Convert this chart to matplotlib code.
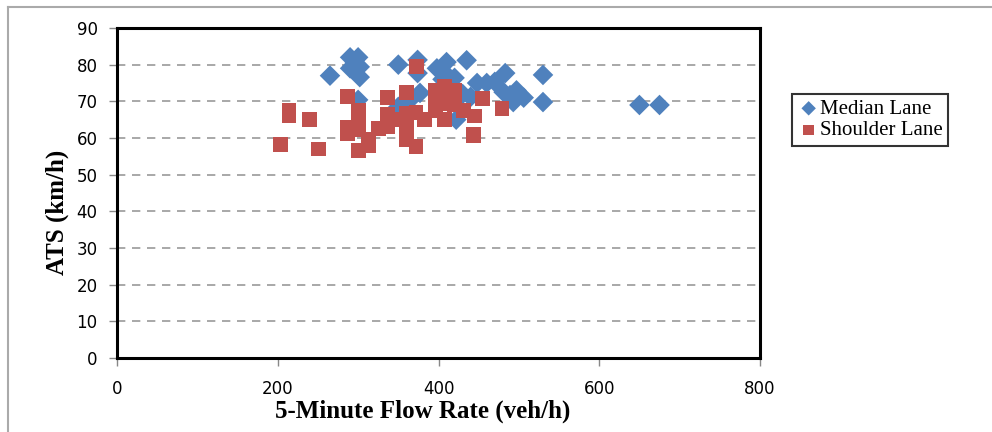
import matplotlib
matplotlib.use('Agg')
import matplotlib.pyplot as plt
from matplotlib.lines import Line2D

# Median lane (blue diamonds)
median_flow = [265, 290, 300, 290, 302, 302, 296, 350, 374, 374, 398, 410, 408,
               420, 435, 448, 460, 470, 483, 530, 530, 497, 489, 506, 493, 481,
               440, 422, 377, 350, 300, 650, 675, 430, 415, 365, 405]
median_ats = [77, 82, 82, 79, 79.4, 76.6, 80.5, 80, 81.3, 77.7, 79, 80.7, 77.7,
              76.4, 81.2, 75, 75, 75.3, 77.7, 77.2, 69.8, 73, 71.7, 71, 69.8, 72.5,
              71.2, 65, 72.3, 68.5, 70.4, 69, 69, 72, 74, 70.5, 76]

# Shoulder lane (red squares)
shoulder_flow = [203, 214, 214, 240, 251, 287, 287, 287, 300, 300, 300, 300, 313,
                 313, 325, 336, 336, 336, 348, 360, 360, 360, 360, 372, 372, 373,
                 383, 396, 396, 396, 408, 408, 407, 420, 431, 445, 443, 444, 455,
                 479, 409, 420]
shoulder_ats = [58.3, 67.6, 66, 65, 57, 71.3, 63, 61.3, 67.6, 65.7, 62.2, 56.7, 59.5,
                58, 62.7, 71, 66.3, 63, 65, 72.3, 66.8, 62.8, 59.5, 57.6, 67, 79.5,
                65, 73, 70, 67.6, 74, 69.5, 65, 73, 67.6, 66, 60.8, 61, 70.8,
                68, 71, 69]

BLUE = '#4F81BD'
RED = '#C0504D'

fig = plt.figure(figsize=(9.92, 4.32), dpi=100, facecolor='w')
ax = fig.add_axes([117/992, 1 - 358/432, 643/992, 330/432])

ax.scatter(median_flow, median_ats, marker='D', s=110, c=BLUE, edgecolors='none',
           label='Median Lane', zorder=3)
ax.scatter(shoulder_flow, shoulder_ats, marker='s', s=115, c=RED, edgecolors='none',
           label='Shoulder Lane', zorder=3)

ax.set_xlim(0, 800)
ax.set_ylim(0, 90)
ax.set_xticks([0, 200, 400, 600, 800])
ax.set_yticks(range(0, 91, 10))
ax.yaxis.grid(True, ls=(0, (5, 4)), color='#999999', lw=1.2)
ax.set_axisbelow(True)

for s in ax.spines.values():
    s.set_linewidth(2.2)
    s.set_color('black')

ax.tick_params(axis='both', direction='out', color='#888888', length=6, width=1,
               labelsize=12, labelcolor='black')
ax.tick_params(axis='x', pad=10)
ax.tick_params(axis='y', pad=8)
for lab in ax.get_xticklabels() + ax.get_yticklabels():
    lab.set_family('DejaVu Sans')

ax.set_xlabel('5-Minute Flow Rate (veh/h)', family='Liberation Serif',
              fontweight='bold', fontsize=18)
ax.xaxis.set_label_coords(0.476, -0.125)
ax.set_ylabel('ATS (km/h)', family='Liberation Serif', fontweight='bold',
              fontsize=18)
ax.yaxis.set_label_coords(-0.075, 0.44)

leg = ax.legend(loc='upper left', bbox_to_anchor=(792/992, 1 - 94/432),
                bbox_transform=fig.transFigure, frameon=True, fancybox=False,
                prop={'family': 'Liberation Serif', 'size': 15},
                handletextpad=0.0, borderpad=0.25, labelspacing=0.1,
                handlelength=1.1, scatterpoints=1, markerscale=0.7,
                borderaxespad=0)
leg.get_frame().set_edgecolor('black')
leg.get_frame().set_linewidth(1.5)

# outer chart border (gray)
fig.add_artist(Line2D([8/992, 8/992], [0, 1 - 7/432], transform=fig.transFigure,
                      color='#aaaaaa', lw=1.5))
fig.add_artist(Line2D([8/992, 1], [1 - 7/432, 1 - 7/432], transform=fig.transFigure,
                      color='#aaaaaa', lw=1.5))

fig.savefig('out.png', dpi=100, facecolor='w')
